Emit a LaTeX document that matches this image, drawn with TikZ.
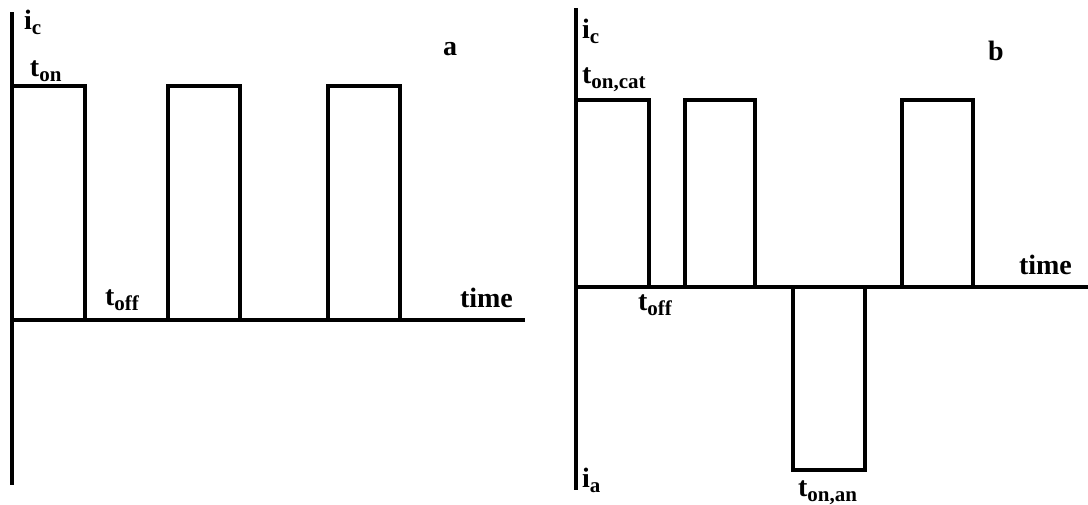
\documentclass[tikz,border=0pt]{standalone}
\usepackage{fontspec}
\setmainfont{Liberation Serif}
\newcommand{\mainsz}{\fontsize{28}{28}\selectfont\bfseries}
\newcommand{\subsz}{\fontsize{21}{21}\selectfont\bfseries}
\newcommand{\lab}[2]{{\mainsz #1}\raisebox{-5pt}{\subsz #2}}
\tikzset{
  wave/.style={line width=3.2pt, line join=miter, line cap=butt},
  lbl/.style={anchor=base west, inner sep=0pt, outer sep=0pt, font=\mainsz}
}
\begin{document}
\begin{tikzpicture}[x=1pt,y=-1pt]
\useasboundingbox (0,0) rectangle (1088,504);
% ---------- panel a ----------
\draw[wave] (12,12) -- (12,485);
\draw[wave] (12,320) -- (525,320);
\draw[wave] (12,86) -- (85,86) -- (85,320);
\draw[wave] (168,320) -- (168,86) -- (240,86) -- (240,320);
\draw[wave] (328,320) -- (328,86) -- (400,86) -- (400,320);
\node[lbl] (ica) at (24,29) {\lab{i}{c}};
\node[lbl] (tona) at (30,76) {\lab{t}{on}};
\node[lbl] (a) at (443,55) {a};
\node[lbl] (toffa) at (105,305) {\lab{t}{off}};
\node[lbl] (timea) at (460,307) {time};
% ---------- panel b ----------
\draw[wave] (576,8) -- (576,490);
\draw[wave] (576,287) -- (1088,287);
\draw[wave] (576,100) -- (649,100) -- (649,287);
\draw[wave] (685,287) -- (685,100) -- (755,100) -- (755,287);
\draw[wave] (793,287) -- (793,470) -- (865,470) -- (865,287);
\draw[wave] (902,287) -- (902,100) -- (973,100) -- (973,287);
\node[lbl] (icb) at (582,38) {\lab{i}{c}};
\node[lbl] (toncat) at (582,83) {\lab{t}{on,cat}};
\node[lbl] (b) at (988,60) {b};
\node[lbl] (timeb) at (1019,274) {time};
\node[lbl] (toffb) at (638,310) {\lab{t}{off}};
\node[lbl] (ia) at (582,487) {\lab{i}{a}};
\node[lbl] (tonan) at (798,496) {\lab{t}{on,an}};
\end{tikzpicture}
\end{document}
